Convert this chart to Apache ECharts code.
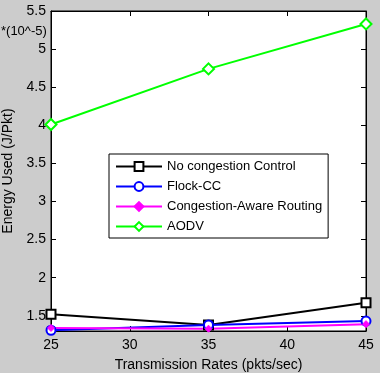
<!DOCTYPE html>
<html><head><meta charset="utf-8">
<script src="https://cdn.jsdelivr.net/npm/echarts@6/dist/echarts.min.js"></script>
<style>html,body{margin:0;padding:0;background:#cccccc}#c{width:380px;height:373px}</style>
</head><body><div id="c"></div>
<script>
const categories = [25, 35, 45];
const noCongestion = [1.52, 1.38, 1.67];
const flockCC = [1.31, 1.38, 1.43];
const congestionAware = [1.34, 1.33, 1.39];
const aodv = [4.01, 4.74, 5.33];
const yTicks = [1.5, 2, 2.5, 3, 3.5, 4, 4.5, 5, 5.5];
const xTicks = [25, 30, 35, 40, 45];

const font = 'Liberation Sans, Arial, sans-serif';
function pairs(v){ return categories.map((c,i)=>[c, v[i]]); }
const chart = echarts.init(document.getElementById('c'));
const axisLine = {show:true, lineStyle:{color:'#000', width:1}};
const tick = {show:true, inside:true, length:5, lineStyle:{color:'#000'}};
chart.setOption({
  backgroundColor:'#cccccc',
  animation:false,
  textStyle:{fontFamily:font},
  grid:{left:51, right:14, top:11, bottom:42, outerBoundsMode:'none', containLabel:false, show:true, backgroundColor:'#fff', borderColor:'#000', borderWidth:1},
  graphic:[{type:'text', left:1, top:25, style:{text:'*(10^-5)', font:'13px '+font, fill:'#000'}}],
  xAxis:[{type:'value', min:25, max:45, interval:5, axisLine, axisTick:tick, splitLine:{show:false},
    axisLabel:{color:'#000', fontSize:14, fontFamily:font, margin:7},
    name:'Transmission Rates (pkts/sec)', nameLocation:'middle', nameGap:27, nameTextStyle:{color:'#000', fontSize:14, fontFamily:font}},
    {type:'value', position:'top', min:25, max:45, interval:5, axisLine, axisTick:tick, axisLabel:{show:false}, splitLine:{show:false}}],
  yAxis:[{type:'value', min:1.3, max:5.5, axisLine, splitLine:{show:false},
    axisTick:Object.assign({customValues:yTicks}, tick),
    axisLabel:{color:'#000', fontSize:14, fontFamily:font, margin:5, customValues:yTicks, formatter:v=>String(Math.round(v*10)/10)},
    name:'Energy Used (J/Pkt)', nameLocation:'middle', nameGap:31, nameTextStyle:{color:'#000', fontSize:14, fontFamily:font}},
    {type:'value', position:'right', min:1.3, max:5.5, axisLine, splitLine:{show:false},
    axisTick:Object.assign({customValues:yTicks}, tick), axisLabel:{show:false}}],
  legend:{orient:'vertical', left:109, top:154, width:194, backgroundColor:'#fff', borderColor:'#000', borderWidth:1,
    padding:[6,6,5,6], itemGap:7, itemWidth:46, itemHeight:11,
    textStyle:{color:'#000', fontSize:13, fontFamily:font},
    data:['No congestion Control','Flock-CC','Congestion-Aware Routing','AODV']},
  series:[
    {name:'No congestion Control', type:'line', data:pairs(noCongestion), lineStyle:{width:2, color:'#000'},
      symbol:'rect', symbolSize:9, itemStyle:{color:'#fff', borderColor:'#000', borderWidth:2}},
    {name:'Flock-CC', type:'line', data:pairs(flockCC), lineStyle:{width:2, color:'#0000ff'},
      symbol:'circle', symbolSize:9, itemStyle:{color:'#fff', borderColor:'#0000ff', borderWidth:2}},
    {name:'Congestion-Aware Routing', type:'line', data:pairs(congestionAware), lineStyle:{width:2, color:'#ff00ff'},
      symbol:'diamond', symbolSize:7, itemStyle:{color:'#ff00ff', borderColor:'#ff00ff', borderWidth:1}},
    {name:'AODV', type:'line', data:pairs(aodv), lineStyle:{width:2, color:'#00ff00'},
      symbol:'diamond', symbolSize:11, itemStyle:{color:'#fff', borderColor:'#00ff00', borderWidth:2}}
  ]
});
</script></body></html>
